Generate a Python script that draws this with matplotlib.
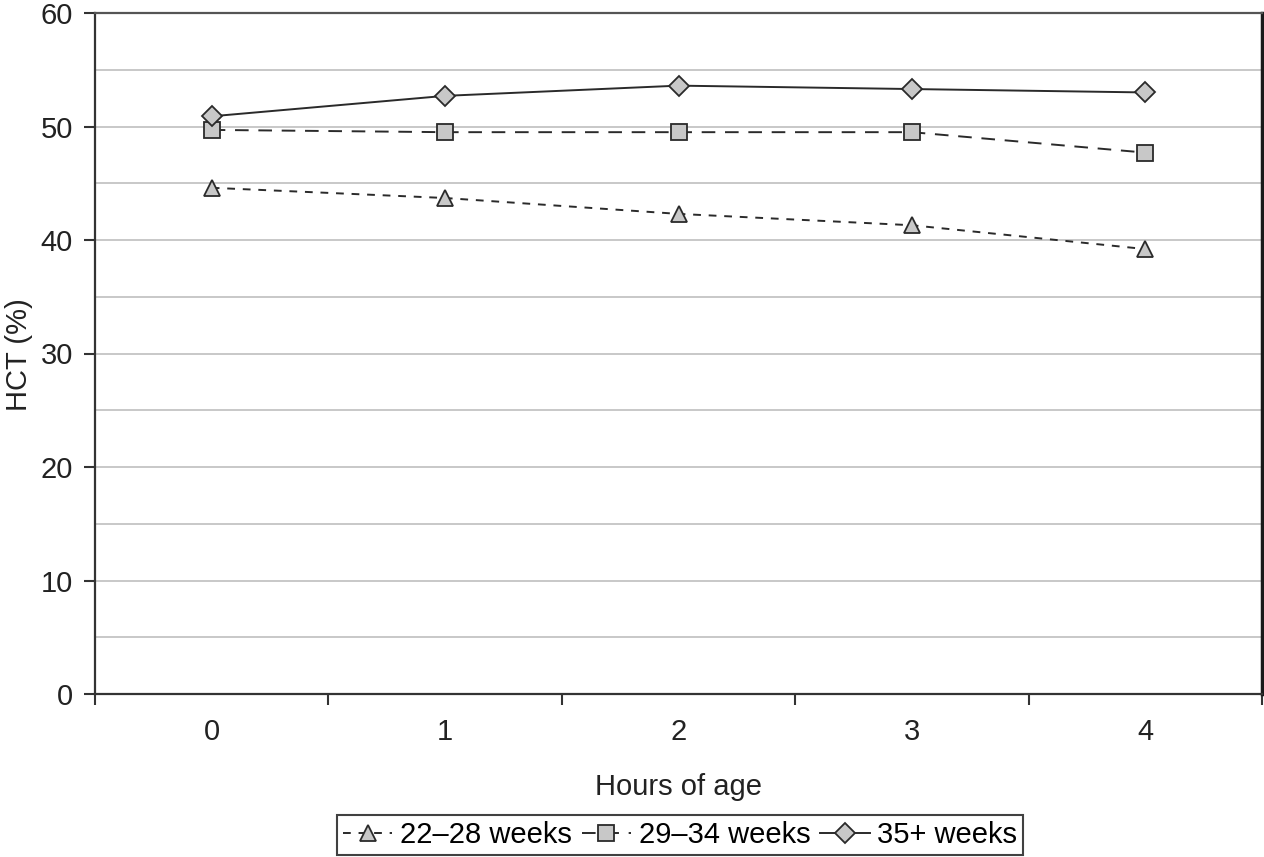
import matplotlib.pyplot as plt
import numpy as np

hours = [0, 1, 2, 3, 4]
hct_22_28 = [44.6, 43.7, 42.3, 41.3, 39.2]
hct_29_34 = [49.7, 49.5, 49.5, 49.5, 47.7]
hct_35 = [50.9, 52.7, 53.6, 53.3, 53.0]
labels = ["22\u201328 weeks", "29\u201334 weeks", "35+ weeks"]

plt.rcParams['font.family'] = ['Liberation Sans', 'DejaVu Sans']

fig = plt.figure(figsize=(12.64, 8.57), dpi=100)
ax = fig.add_axes([95 / 1264, 1 - 694 / 857, (1262 - 95) / 1264, (694 - 13) / 857])

face = "#c8c8c8"
edge = "#2a2a2a"
fs = 21

ax.plot(hours, hct_22_28, color=edge, lw=1.4, dashes=(4, 4), marker="^", ms=11.5,
        mfc=face, mec=edge, mew=1.3, label=labels[0])
ax.plot(hours, hct_29_34, color=edge, lw=1.4, dashes=(7, 5), marker="s", ms=11,
        mfc=face, mec=edge, mew=1.3, label=labels[1])
ax.plot(hours, hct_35, color=edge, lw=1.4, ls="-", marker="D", ms=10.5,
        mfc=face, mec=edge, mew=1.3, label=labels[2])

ax.set_xlim(-0.5, 4.5)
ax.set_ylim(0, 60)
ax.set_yticks(range(0, 61, 10))
ax.set_yticks(range(5, 60, 10), minor=True)
ax.set_xticks(hours)
ax.set_xticks(np.arange(-0.5, 4.6, 1), minor=True)
ax.grid(True, axis="y", which="both", color="#c4c4c4", lw=1.3)
ax.set_axisbelow(True)

ax.tick_params(axis="y", which="major", direction="out", length=8, width=1.5,
               color="#333333", labelsize=fs, pad=8, labelcolor="#222222")
ax.tick_params(axis="y", which="minor", length=0)
ax.tick_params(axis="x", which="major", length=0, labelsize=fs, pad=17, labelcolor="#222222")
ax.tick_params(axis="x", which="minor", direction="out", length=8, width=1.5, color="#333333")

for side in ["left", "bottom"]:
    ax.spines[side].set_color("#333333")
    ax.spines[side].set_linewidth(1.6)
ax.spines["right"].set_color("#1a1a1a")
ax.spines["right"].set_linewidth(2.5)
ax.spines["top"].set_color("#555555")
ax.spines["top"].set_linewidth(1.6)

ax.set_xlabel("Hours of age", fontsize=fs, labelpad=20, color="#222222")
ax.set_ylabel("HCT (%)", fontsize=fs, color="#222222", va="center")
ax.yaxis.set_label_coords((19 - 95) / 1167, (694 - 355) / 681)

leg = fig.legend(loc="center", bbox_to_anchor=(680 / 1264, 1 - 835 / 857), ncol=3,
                 fontsize=fs, frameon=True, fancybox=False, handlelength=1.7,
                 handletextpad=0.25, columnspacing=0.35, borderpad=0.2)
leg.get_frame().set_edgecolor("#111111")
leg.get_frame().set_linewidth(1.5)

fig.savefig("out.png", dpi=100)
